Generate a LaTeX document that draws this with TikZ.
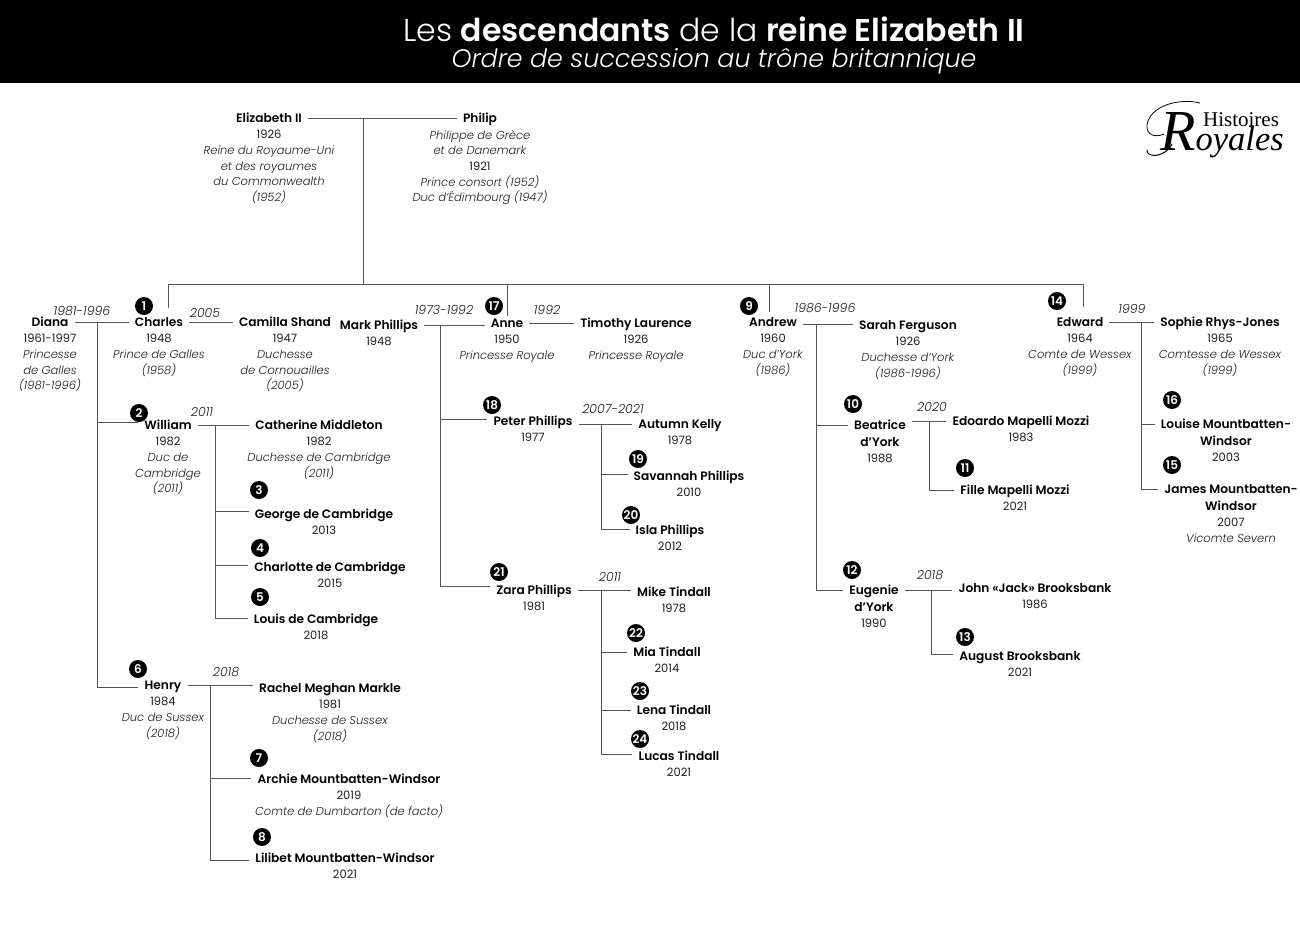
\documentclass[tikz,border=0pt]{standalone}
\usepackage{fontspec}
\setmainfont{Poppins}[BoldFont={Poppins SemiBold},ItalicFont={Poppins Light Italic},BoldItalicFont={Poppins SemiBold Italic}]
\newfontfamily\titlefont{Poppins Light}[BoldFont={Poppins SemiBold},ItalicFont={Poppins Light Italic}]
\newfontfamily\logofont{Liberation Serif}
\usetikzlibrary{positioning}
\definecolor{lineGray}{RGB}{85, 85, 85}
\definecolor{infoGray}{RGB}{30, 30, 30}
\newcommand{\nomsuite}[1]{{\fontsize{12.2}{15.6}\selectfont\bfseries\color{black} #1}}
\tikzset{
  nom/.style={font=\fontsize{12.2}{15.6}\selectfont\bfseries, text=black, inner xsep=6pt, inner ysep=0pt, text height=11pt, text depth=3pt},
  info/.style={font=\fontsize{11.5}{15.6}\selectfont, text=infoGray, align=center, inner sep=0pt, execute at begin node=\strut},
  an/.style={font=\fontsize{12.5}{14}\selectfont\itshape, text=infoGray, inner sep=0pt},
  rang/.style={circle, fill=black, text=white, inner sep=0pt, minimum size=18pt, font=\fontsize{12}{12}\selectfont\bfseries},
  lien/.style={draw=lineGray, line width=1pt},
}
\begin{document}
\begin{tikzpicture}[x=1pt, y=-1pt]
  \useasboundingbox (0,0) rectangle (1300,924);
  % Bandeau
  \fill[black] (0,0) rectangle (1300,83);
  \node[text=white, inner sep=0pt, font=\titlefont\fontsize{31.5}{33}\selectfont] (titre) at (714,29) {Les \textbf{descendants} de la \textbf{reine Elizabeth II}};
  \node[text=white, inner sep=0pt, font=\titlefont\fontsize{25.3}{27}\selectfont\itshape] (soustitre) at (714,61) {Ordre de succession au trône britannique};

  % Logo
  \node[inner sep=0pt, font=\logofont\fontsize{21}{21}\selectfont] (histoires) at (1241,120) {Histoires};
  \node[inner sep=0pt, anchor=base west, font=\logofont\itshape\fontsize{34.5}{35}\selectfont] (royales) at (1160,150) {{\fontsize{58}{58}\selectfont R}oyales};
  \draw[black, line width=0.8pt] (1200,103) .. controls (1180,98) and (1150,105) .. (1147,125) .. controls (1146,135) and (1155,138) .. (1164,134);
  \draw[black, line width=1pt] (1147,150) .. controls (1146,158) and (1165,158) .. (1172,144);

  % Elizabeth et Philip
  \node[nom] (elizabeth) at (269,118) {Elizabeth II};
  \node[info, below=5pt of elizabeth] (elizabethinfo) {1926\\\textit{Reine du Royaume-Uni}\\\textit{et des royaumes}\\\textit{du Commonwealth}\\\textit{(1952)}};
  \node[nom] (philip) at (480,118) {Philip};
  \node[info, below=5pt of philip] (philipinfo) {\textit{Philippe de Grèce}\\\textit{et de Danemark}\\1921\\\textit{Prince consort (1952)}\\\textit{Duc d'Édimbourg (1947)}};
  \coordinate (couple) at (363,118);
  \coordinate (barmid) at (363,284);
  \coordinate (barcharles) at (168,284);
  \coordinate (baredward) at (1083,284);
  \coordinate (stemcharles) at (168,308);
  \coordinate (stemandrew) at (769.5,312);
  \coordinate (stemedward) at (1083,307);
  \draw[lien] (elizabeth.east) -- (philip.west);
  \draw[lien] (couple) -- (barmid);
  \draw[lien] (stemcharles) -- (barcharles) -- (baredward) -- (stemedward);

  % Charles
  \node[rang] (r1) at (144,306) {1};
  \node[nom] (charles) at (159,322) {Charles};
  \node[info, below=5pt of charles] (charlesinfo) {1948\\\textit{Prince de Galles}\\\textit{(1958)}};
  \node[nom] (diana) at (50,322) {Diana};
  \node[info, below=5pt of diana] (dianainfo) {1961-1997\\\textit{Princesse}\\\textit{de Galles}\\\textit{(1981-1996)}};
  \node[nom] (camilla) at (285,322) {Camilla Shand};
  \node[info, below=5pt of camilla] (camillainfo) {1947\\\textit{Duchesse}\\\textit{de Cornouailles}\\\textit{(2005)}};
  \node[an] (a1981) at (82,311) {1981-1996};
  \node[an] (a2005) at (205,313) {2005};
  \draw[lien] (diana.east) -- (charles.west);
  \draw[lien] (charles.east) -- (camilla.west);
  \coordinate (jdiana) at (97,322);

  % William
  \node[rang] (r2) at (139,413) {2};
  \node[nom] (william) at (168,425) {William};
  \node[info, below=5pt of william] (williaminfo) {1982\\\textit{Duc de}\\\textit{Cambridge}\\\textit{(2011)}};
  \node[nom] (catherine) at (319,425) {Catherine Middleton};
  \node[info, below=5pt of catherine] (catherineinfo) {1982\\\textit{Duchesse de Cambridge}\\\textit{(2011)}};
  \node[an] (a2011w) at (202,412) {2011};
  \draw[lien] (jdiana) |- ([yshift=2.5pt]william.west);
  \draw[lien] (william.east) -- (catherine.west);
  \coordinate (jwilliam) at (215,425);
  \node[rang] (r3) at (259,490) {3};
  \node[nom] (george) at (324,514) {George de Cambridge};
  \node[info, below=2pt of george] (georgeinfo) {2013};
  \node[rang] (r4) at (260,548) {4};
  \node[nom] (charlotte) at (330,567) {Charlotte de Cambridge};
  \node[info, below=2pt of charlotte] (charlotteinfo) {2015};
  \node[rang] (r5) at (260,597) {5};
  \node[nom] (louis) at (316,619) {Louis de Cambridge};
  \node[info, below=2pt of louis] (louisinfo) {2018};
  \draw[lien] (jwilliam) |- ([yshift=3pt]george.west);
  \draw[lien] (jwilliam) |- ([yshift=2pt]charlotte.west);
  \draw[lien] (jwilliam) |- ([yshift=1pt]louis.west);

  % Henry
  \node[rang] (r6) at (138,669) {6};
  \node[nom] (henry) at (163,685) {Henry};
  \node[info, below=5pt of henry] (henryinfo) {1984\\\textit{Duc de Sussex}\\\textit{(2018)}};
  \node[nom] (rachel) at (330,688) {Rachel Meghan Markle};
  \node[info, below=5pt of rachel] (rachelinfo) {1981\\\textit{Duchesse de Sussex}\\\textit{(2018)}};
  \node[an] (a2018h) at (226,672) {2018};
  \draw[lien] (jdiana) |- ([yshift=-2pt]henry.west);
  \draw[lien] (henry.east) -- (henry.east -| rachel.west);
  \coordinate (jhenry) at (210,685);
  \node[rang] (r7) at (259,758) {7};
  \node[nom] (archie) at (349,779) {Archie Mountbatten-Windsor};
  \node[info, below=5pt of archie] (archieinfo) {2019\\\textit{Comte de Dumbarton (de facto)}};
  \node[rang] (r8) at (262,837) {8};
  \node[nom] (lilibet) at (345,858) {Lilibet Mountbatten-Windsor};
  \node[info, below=2pt of lilibet] (lilibetinfo) {2021};
  \draw[lien] (jhenry) |- ([yshift=1pt]archie.west);
  \draw[lien] (jhenry) |- ([yshift=-2pt]lilibet.west);

  % Anne
  \node[rang] (r17) at (494,306) {17};
  \node[nom] (anne) at (507,323) {Anne};
  \node[info, below=5pt of anne] (anneinfo) {1950\\\textit{Princesse Royale}};
  \node[nom] (mark) at (379,325) {Mark Phillips};
  \node[info, below=2pt of mark] (markinfo) {1948};
  \node[nom] (timothy) at (636,323) {Timothy Laurence};
  \node[info, below=5pt of timothy] (timothyinfo) {1926\\\textit{Princesse Royale}};
  \node[an] (a1973) at (444,310) {1973-1992};
  \node[an] (a1992) at (547,310) {1992};
  \coordinate (baranne) at (507,284);
  \draw[lien] (baranne) -- (anne.north);
  \draw[lien] (mark.east) -- (mark.east -| anne.west);
  \draw[lien] (anne.east) -- (timothy.west);
  \coordinate (jmark) at (440.5,325);

  % Peter
  \node[rang] (r18) at (492,405) {18};
  \node[nom] (peter) at (533,421) {Peter Phillips};
  \node[info, below=2pt of peter] (peterinfo) {1977};
  \node[nom] (autumn) at (680,424) {Autumn Kelly};
  \node[info, below=2pt of autumn] (autumninfo) {1978};
  \node[an] (a2007) at (613,409) {2007-2021};
  \draw[lien] (jmark) |- ([yshift=2pt]peter.west);
  \draw[lien] (peter.east |- autumn.west) -- (autumn.west);
  \coordinate (jpeter) at (601.5,424);
  \node[rang] (r19) at (638,459) {19};
  \node[nom] (savannah) at (689,476) {Savannah Phillips};
  \node[info, below=2pt of savannah] (savannahinfo) {2010};
  \node[rang] (r20) at (631,515) {20};
  \node[nom] (isla) at (670,530) {Isla Phillips};
  \node[info, below=2pt of isla] (islainfo) {2012};
  \draw[lien] (jpeter) |- ([yshift=1.5pt]savannah.west);
  \draw[lien] (jpeter) |- ([yshift=1pt]isla.west);

  % Zara
  \node[rang] (r21) at (499,572) {21};
  \node[nom] (zara) at (534,590) {Zara Phillips};
  \node[info, below=2pt of zara] (zarainfo) {1981};
  \node[nom] (mike) at (674,592) {Mike Tindall};
  \node[info, below=2pt of mike] (mikeinfo) {1978};
  \node[an] (a2011z) at (610,577) {2011};
  \draw[lien] (jmark) |- ([yshift=4pt]zara.west);
  \draw[lien] (zara.east) -- (zara.east -| mike.west);
  \coordinate (jzara) at (601,590);
  \node[rang] (r22) at (636,633) {22};
  \node[nom] (mia) at (667,652) {Mia Tindall};
  \node[info, below=2pt of mia] (miainfo) {2014};
  \node[rang] (r23) at (640,691) {23};
  \node[nom] (lena) at (674,710) {Lena Tindall};
  \node[info, below=2pt of lena] (lenainfo) {2018};
  \node[rang] (r24) at (640,739) {24};
  \node[nom] (lucas) at (679,756) {Lucas Tindall};
  \node[info, below=2pt of lucas] (lucasinfo) {2021};
  \draw[lien] (jzara) |- (mia.west);
  \draw[lien] (jzara) |- (lena.west);
  \draw[lien] (jzara) |- ([yshift=2pt]lucas.west);

  % Andrew
  \node[rang] (r9) at (749,306) {9};
  \node[nom] (andrew) at (773,322) {Andrew};
  \node[info, below=5pt of andrew] (andrewinfo) {1960\\\textit{Duc d'York}\\\textit{(1986)}};
  \node[nom] (sarah) at (908,325) {Sarah Ferguson};
  \node[info, below=5pt of sarah] (sarahinfo) {1926\\\textit{Duchesse d'York}\\\textit{(1986-1996)}};
  \node[an] (a1986) at (825,308) {1986-1996};
  \coordinate (barandrew) at (769.5,284);
  \draw[lien] (barandrew) -- (stemandrew);
  \draw[lien] (andrew.east |- 0,324) -- (sarah.west |- 0,324);
  \coordinate (jandrew) at (816.5,324);

  % Beatrice
  \node[rang] (r10) at (853,404) {10};
  \node[nom] (beatrice) at (880,425) {Beatrice};
  \node[info, below=5pt of beatrice] (beatriceinfo) {\nomsuite{d'York}\\1988};
  \node[nom] (edoardo) at (1021,421) {Edoardo Mapelli Mozzi};
  \node[info, below=2pt of edoardo] (edoardoinfo) {1983};
  \node[an] (a2020) at (932,407) {2020};
  \draw[lien] (jandrew) |- (beatrice.west);
  \draw[lien] (beatrice.east |- edoardo.west) -- (edoardo.west);
  \coordinate (jbeatrice) at (929,421);
  \node[rang] (r11) at (965,468) {11};
  \node[nom] (fille) at (1015,490) {Fille Mapelli Mozzi};
  \node[info, below=2pt of fille] (filleinfo) {2021};
  \draw[lien] (jbeatrice) |- (fille.west);

  % Eugenie
  \node[rang] (r12) at (852,570) {12};
  \node[nom] (eugenie) at (874,590) {Eugenie};
  \node[info, below=5pt of eugenie] (eugenieinfo) {\nomsuite{d'York}\\1990};
  \node[nom] (john) at (1035,588) {John «Jack» Brooksbank};
  \node[info, below=2pt of john] (johninfo) {1986};
  \node[an] (a2018e) at (930,575) {2018};
  \draw[lien] (jandrew) |- (eugenie.west);
  \draw[lien] (eugenie.east) -- (eugenie.east -| john.west);
  \coordinate (jeugenie) at (931,590);
  \node[rang] (r13) at (965,637) {13};
  \node[nom] (august) at (1020,656) {August Brooksbank};
  \node[info, below=2pt of august] (augustinfo) {2021};
  \draw[lien] (jeugenie) |- ([yshift=1.5pt]august.west);

  % Edward
  \node[rang] (r14) at (1057,301) {14};
  \node[nom] (edward) at (1080,322) {Edward};
  \node[info, below=5pt of edward] (edwardinfo) {1964\\\textit{Comte de Wessex}\\\textit{(1999)}};
  \node[nom] (sophie) at (1220,322) {Sophie Rhys-Jones};
  \node[info, below=5pt of sophie] (sophieinfo) {1965\\\textit{Comtesse de Wessex}\\\textit{(1999)}};
  \node[an] (a1999) at (1132,309) {1999};
  \draw[lien] (edward.east) -- (sophie.west);
  \coordinate (jedward) at (1141,322);
  \node[rang] (r16) at (1172,400) {16};
  \node[nom] (louise) at (1226,424) {Louise Mountbatten-};
  \node[info, below=5pt of louise] (louiseinfo) {\nomsuite{Windsor}\\2003};
  \node[rang] (r15) at (1172,465) {15};
  \node[nom] (james) at (1231,489) {James Mountbatten-};
  \node[info, below=5pt of james] (jamesinfo) {\nomsuite{Windsor}\\2007\\\textit{Vicomte Severn}};
  \draw[lien] (jedward) |- (louise.west);
  \draw[lien] (jedward) |- (james.west);
\end{tikzpicture}
\end{document}
